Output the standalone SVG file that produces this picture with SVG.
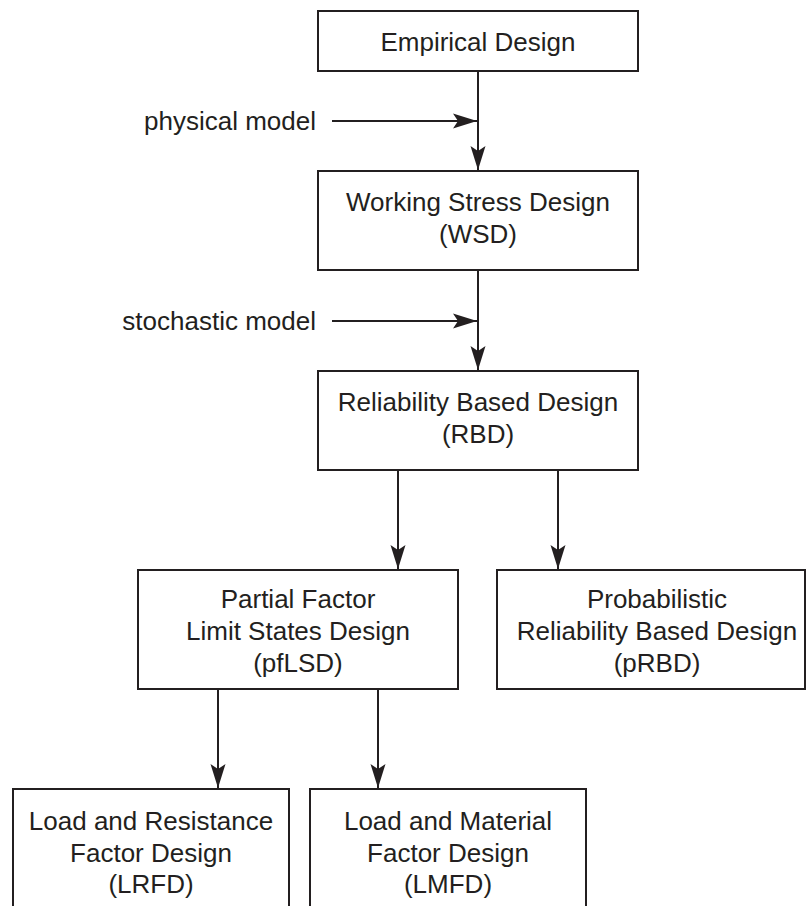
<svg xmlns="http://www.w3.org/2000/svg" width="806" height="906" viewBox="0 0 806 906">
<defs>
<style>
.box{fill:#fff;stroke:#231f20;stroke-width:2}
.ln{fill:none;stroke:#231f20;stroke-width:2}
text{font-family:"Liberation Sans",Arial,Helvetica,sans-serif;font-size:26px;fill:#231f20}
.c{text-anchor:middle}
.r{text-anchor:end}
</style>
<marker id="ah" markerUnits="userSpaceOnUse" markerWidth="26" markerHeight="16" viewBox="-25 -8 26 16" refX="0" refY="0" orient="auto">
<path d="M0,0 L-24,-7.5 L-19,0 L-24,7.5 Z" fill="#231f20"/>
</marker>
</defs>
<rect width="806" height="906" fill="#fff"/>
<g id="connectors">
<line class="ln" x1="478" y1="71" x2="478" y2="170" marker-end="url(#ah)"/>
<line class="ln" x1="332" y1="121" x2="477" y2="121" marker-end="url(#ah)"/>
<line class="ln" x1="478" y1="270" x2="478" y2="370" marker-end="url(#ah)"/>
<line class="ln" x1="332" y1="321" x2="477" y2="321" marker-end="url(#ah)"/>
<line class="ln" x1="398" y1="470" x2="398" y2="569" marker-end="url(#ah)"/>
<line class="ln" x1="558" y1="470" x2="558" y2="569" marker-end="url(#ah)"/>
<line class="ln" x1="218" y1="689" x2="218" y2="788" marker-end="url(#ah)"/>
<line class="ln" x1="378" y1="689" x2="378" y2="788" marker-end="url(#ah)"/>
<text class="r" x="316" y="129.5">physical model</text>
<text class="r" x="316" y="329.5">stochastic model</text>
</g>
<g id="empirical">
<rect class="box" x="318" y="11" width="320" height="60"/>
<text class="c" x="478" y="50.5">Empirical Design</text>
</g>
<g id="wsd">
<rect class="box" x="318" y="171" width="320" height="99"/>
<text class="c" x="478" y="211">Working Stress Design</text>
<text class="c" x="478" y="243">(WSD)</text>
</g>
<g id="rbd">
<rect class="box" x="318" y="371" width="320" height="99"/>
<text class="c" x="478" y="411">Reliability Based Design</text>
<text class="c" x="478" y="443">(RBD)</text>
</g>
<g id="pflsd">
<rect class="box" x="138" y="570" width="320" height="119"/>
<text class="c" x="298" y="608">Partial Factor</text>
<text class="c" x="298" y="640">Limit States Design</text>
<text class="c" x="298" y="672">(pfLSD)</text>
</g>
<g id="prbd">
<rect class="box" x="497" y="570" width="308" height="119"/>
<text class="c" x="657" y="608">Probabilistic</text>
<text class="c" x="657" y="640">Reliability Based Design</text>
<text class="c" x="657" y="672">(pRBD)</text>
</g>
<g id="lrfd">
<rect class="box" x="13" y="789" width="276" height="130"/>
<text class="c" x="151" y="830">Load and Resistance</text>
<text class="c" x="151" y="862">Factor Design</text>
<text class="c" x="151" y="893">(LRFD)</text>
</g>
<g id="lmfd">
<rect class="box" x="310" y="789" width="276" height="130"/>
<text class="c" x="448" y="830">Load and Material</text>
<text class="c" x="448" y="862">Factor Design</text>
<text class="c" x="448" y="893">(LMFD)</text>
</g>
</svg>
